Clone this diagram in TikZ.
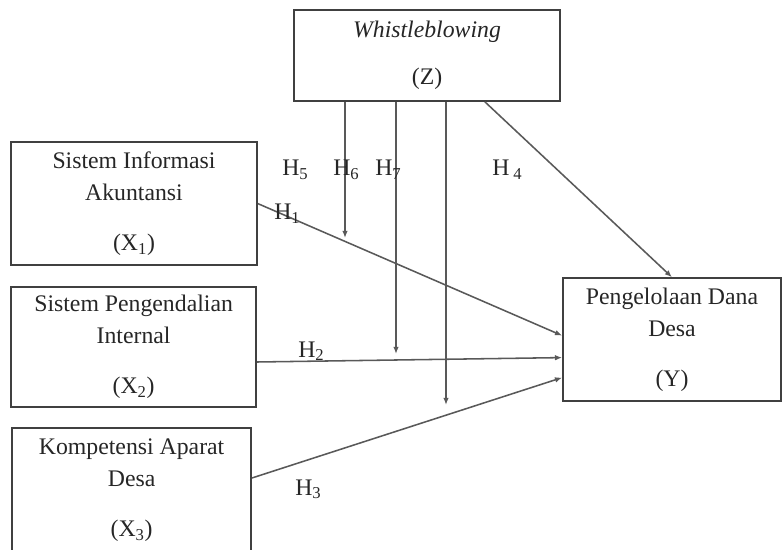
\documentclass[tikz,border=0pt]{standalone}
\usepackage{fontspec}
\setmainfont{Liberation Serif}
\usepackage{tikz}
\usetikzlibrary{arrows.meta}

\begin{document}
\begin{tikzpicture}[
   varbox/.style={draw=black!75, line width=1.2pt, align=center, text=black!85,
      font=\fontsize{16.9}{22.8}\selectfont},
   hlabel/.style={anchor=base west, inner sep=0pt, text=black!85,
      font=\fontsize{16.9}{22.8}\selectfont},
   path/.style={draw=black!65, line width=1.1pt, -{Latex[length=1.8mm,width=1.4mm]}}
   ]
      \useasboundingbox (0,0) rectangle (19.55,-13.75);
      \clip (0,0) rectangle (19.55,-13.75);
      % variables
      \node[varbox, minimum width=6.65cm, minimum height=2.275cm] (z) at (10.675,-1.39) {\textit{Whistleblowing}\\[10.7pt](Z)};
      \node[varbox, minimum width=6.15cm, minimum height=3.075cm] (x1) at (3.35,-5.09) {Sistem Informasi\\Akuntansi\\[12.8pt](X\textsubscript{1})};
      \node[varbox, minimum width=6.125cm, minimum height=3cm] (x2) at (3.34,-8.675) {Sistem Pengendalian\\Internal\\[12.8pt](X\textsubscript{2})};
      \node[varbox, minimum width=5.975cm, minimum height=3.1cm] (x3) at (3.29,-12.25) {Kompetensi Aparat\\Desa\\[12.8pt](X\textsubscript{3})};
      \node[varbox, minimum width=5.45cm, minimum height=3.075cm] (y) at (16.8,-8.49) {Pengelolaan Dana\\Desa\\[12.8pt](Y)};
      % direct paths
      \draw[path] (x1.east) -- ([yshift=0.1cm]y.west);
      \draw[path] ([yshift=-0.375cm]x2.east) -- ([yshift=-0.45cm]y.west);
      \draw[path] ([yshift=0.3cm]x3.east) -- ([yshift=-0.95cm]y.west);
      \draw[path] ([xshift=1.45cm]z.south) -- (y.north);
      % moderating paths
      \coordinate (m6) at (8.625,-5.95);
      \coordinate (m7) at (9.9,-8.85);
      \coordinate (m8) at (11.15,-10.125);
      \foreach \m in {m6,m7,m8} { \draw[path] (z.south -| \m) -- (\m); }
      % hypothesis labels
      \node[hlabel] (h5) at (7.05,-4.4) {H\textsubscript{5}};
      \node[hlabel] (h6) at (8.325,-4.4) {H\textsubscript{6}};
      \node[hlabel] (h7) at (9.375,-4.4) {H\textsubscript{7}};
      \node[hlabel] (h4) at (12.3,-4.4) {H\,\textsubscript{4}};
      \node[hlabel] (h1) at (6.85,-5.5) {H\textsubscript{1}};
      \node[hlabel] (h2) at (7.45,-8.925) {H\textsubscript{2}};
      \node[hlabel] (h3) at (7.375,-12.375) {H\textsubscript{3}};
   \end{tikzpicture}
\end{document}
